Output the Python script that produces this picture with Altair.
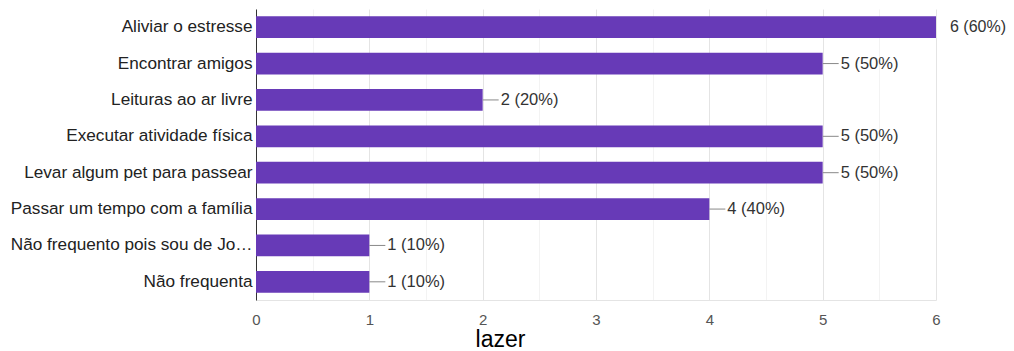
import altair as alt
import pandas as pd

categories = [
    "Aliviar o estresse",
    "Encontrar amigos",
    "Leituras ao ar livre",
    "Executar atividade física",
    "Levar algum pet para passear",
    "Passar um tempo com a família",
    "Não frequento pois sou de Joinville",
    "Não frequenta",
]
counts = [6, 5, 2, 5, 5, 4, 1, 1]
percents = [60, 50, 20, 50, 50, 40, 10, 10]
tick_values = [0, 0.5, 1, 1.5, 2, 2.5, 3, 3.5, 4, 4.5, 5, 5.5, 6]

df = pd.DataFrame({
    "cat": categories,
    "count": counts,
    "label": [f"{c} ({p}%)" for c, p in zip(counts, percents)],
})

FONT = "Liberation Sans"
PURPLE = "#673ab7"

x_enc = alt.X(
    "count:Q",
    scale=alt.Scale(domain=[0, 6], nice=False),
    axis=alt.Axis(
        values=tick_values,
        labelExpr="datum.value % 1 == 0 ? format(datum.value, 'd') : ''",
        labelFlush=False,
        grid=True,
        gridColor={"condition": {"test": "datum.value % 1 != 0", "value": "#f3f3f3"}, "value": "#e4e4e4"},
        ticks=False,
        domain=True,
        domainColor="#e4e4e4",
        labelFont=FONT,
        labelFontSize=15,
        labelColor="#555555",
        labelPadding=12,
        title="lazer",
        titleFont=FONT,
        titleFontSize=23,
        titleFontWeight="normal",
        titleColor="#000000",
        titleX=244,
        titleY=46,
        titleAlign="center",
        titleBaseline="alphabetic",
    ),
)
y_enc = alt.Y(
    "cat:N",
    sort=None,
    scale=alt.Scale(paddingInner=0.4, paddingOuter=0.2),
    axis=alt.Axis(
        title=None,
        ticks=False,
        domain=True,
        domainColor="#333333",
        labelFont=FONT,
        labelFontSize=17.2,
        labelColor="#222222",
        labelPadding=4,
        labelLimit=242,
        grid=False,
    ),
)

base = alt.Chart(df)

bars = base.mark_bar(color=PURPLE).encode(x=x_enc, y=y_enc)

leaders = base.mark_rule(color="#888888", strokeWidth=1, x2Offset=16).encode(
    x="count:Q", x2="count:Q", y=alt.Y("cat:N", sort=None)
).transform_filter(alt.datum.count < 6)

labels = base.mark_text(
    align="left", baseline="middle", dx=18, font=FONT, fontSize=16.5, color="#333333"
).encode(x="count:Q", y=alt.Y("cat:N", sort=None), text="label:N").transform_filter(
    alt.datum.count < 6
)

max_label = base.mark_text(
    align="left", baseline="middle", dx=14, font=FONT, fontSize=16, color="#333333"
).encode(x="count:Q", y=alt.Y("cat:N", sort=None), text="label:N").transform_filter(
    alt.datum.count >= 6
)

chart = alt.layer(bars, leaders, labels, max_label).properties(
    width=680,
    height=291,
    autosize=alt.AutoSizeParams(type="none"),
    padding={"left": 248, "top": 1, "right": 70, "bottom": 51},
).configure_view(stroke=None)

chart.save("out.html", embed_options={"renderer": "svg", "actions": False})
